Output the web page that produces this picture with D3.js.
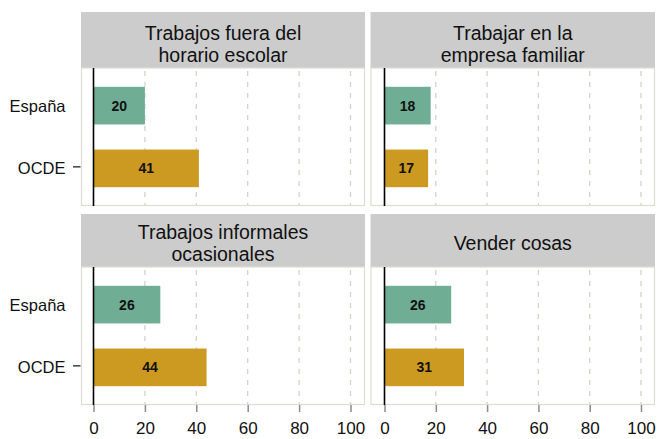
<!DOCTYPE html>
<html>
<head>
<meta charset="utf-8">
<script src="https://cdn.jsdelivr.net/npm/d3@7"></script>
<style>
  html, body { margin: 0; padding: 0; background: #ffffff; }
  svg { display: block; font-family: "Liberation Sans", Arial, sans-serif; }
</style>
</head>
<body>
<svg id="chart" width="657" height="439"></svg>
<script>
// Panels (row-major), their groups and values (%)
const panelTitles = [
  ["Trabajos fuera del", "horario escolar"],
  ["Trabajar en la", "empresa familiar"],
  ["Trabajos informales", "ocasionales"],
  ["Vender cosas"]
];
const groups = ["España", "OCDE"];
const espanaValues = [20, 18, 26, 26];
const ocdeValues = [41, 17, 44, 31];
const xTicks = [0, 20, 40, 60, 80, 100];
const groupColors = ["#6fae95", "#cc9a21"];

// Layout of the 2x2 grid
const cols = [
  { left: 81, right: 365, zero: 93.5, full: 350.5 },
  { left: 370.5, right: 655, zero: 384.5, full: 641 }
];
const rows = [
  { stripTop: 12, plotTop: 68, plotBottom: 206 },
  { stripTop: 214, plotTop: 267, plotBottom: 405 }
];

const svg = d3.select("#chart");

panelTitles.forEach((title, i) => {
  const c = cols[i % 2];
  const r = rows[Math.floor(i / 2)];
  const values = [espanaValues[i], ocdeValues[i]];

  const x = d3.scaleLinear().domain([0, 100]).range([c.zero, c.full]);
  const y = d3.scaleBand().domain(groups)
    .range([r.plotTop, r.plotBottom])
    .paddingInner(0.4).paddingOuter(0.3);

  const g = svg.append("g");

  // header strip
  g.append("rect")
    .attr("x", c.left).attr("y", r.stripTop)
    .attr("width", c.right - c.left).attr("height", r.plotTop - r.stripTop)
    .attr("fill", "#cccccc");

  const lineGap = 21.7;
  const lastBaseline = r.plotTop - 6.2;
  const firstBaseline = title.length === 2 ? lastBaseline - lineGap : lastBaseline - lineGap / 2;
  g.append("text")
    .attr("text-anchor", "middle")
    .attr("font-size", 19.5)
    .attr("fill", "#111")
    .selectAll("tspan")
    .data(title)
    .join("tspan")
    .attr("x", (c.left + c.right) / 2)
    .attr("y", (d, k) => firstBaseline + k * lineGap)
    .text(d => d);

  // plot area
  g.append("rect")
    .attr("x", c.left + 0.5).attr("y", r.plotTop)
    .attr("width", c.right - c.left - 1).attr("height", r.plotBottom - r.plotTop - 0.5)
    .attr("fill", "#ffffff")
    .attr("stroke", "#dcdcd0").attr("stroke-width", 1.2);

  // dashed gridlines
  g.selectAll("line.grid")
    .data(xTicks.filter(t => t > 0))
    .join("line")
    .attr("class", "grid")
    .attr("x1", d => x(d)).attr("x2", d => x(d))
    .attr("y1", r.plotTop + 3).attr("y2", r.plotBottom - 1)
    .attr("stroke", "#d3d3ca").attr("stroke-width", 1.3)
    .attr("stroke-dasharray", "5,6");

  // bars
  g.selectAll("rect.bar")
    .data(values)
    .join("rect")
    .attr("class", "bar")
    .attr("x", x(0))
    .attr("y", (d, k) => y(groups[k]))
    .attr("width", d => x(d) - x(0))
    .attr("height", y.bandwidth())
    .attr("fill", (d, k) => groupColors[k]);

  // value labels
  g.selectAll("text.val")
    .data(values)
    .join("text")
    .attr("class", "val")
    .attr("x", d => (x(0) + x(d)) / 2)
    .attr("y", (d, k) => y(groups[k]) + y.bandwidth() / 2)
    .attr("dy", "0.36em")
    .attr("text-anchor", "middle")
    .attr("font-size", 14)
    .attr("font-weight", "bold")
    .attr("fill", "#111")
    .text(d => d);

  // zero line
  g.append("line")
    .attr("x1", x(0)).attr("x2", x(0))
    .attr("y1", r.plotTop).attr("y2", r.plotBottom)
    .attr("stroke", "#000").attr("stroke-width", 1.6);

  // group labels on the left column
  if (i % 2 === 0) {
    g.selectAll("text.grp")
      .data(groups)
      .join("text")
      .attr("class", "grp")
      .attr("x", 65.5)
      .attr("y", d => y(d) + y.bandwidth() / 2)
      .attr("dy", "0.36em")
      .attr("text-anchor", "end")
      .attr("font-size", 16.5)
      .attr("fill", "#111")
      .text(d => d);
    g.append("line")
      .attr("x1", 73).attr("x2", 80.5)
      .attr("y1", y("OCDE") + y.bandwidth() / 2 - 1.5)
      .attr("y2", y("OCDE") + y.bandwidth() / 2 - 1.5)
      .attr("stroke", "#222").attr("stroke-width", 1.3);
  }

  // bottom axis on the lower row
  if (Math.floor(i / 2) === 1) {
    const axis = d3.axisBottom(x).tickValues(xTicks).tickSize(7).tickPadding(10);
    const ag = g.append("g")
      .attr("transform", `translate(0,${r.plotBottom})`)
      .call(axis);
    ag.select(".domain").remove();
    ag.selectAll(".tick line").attr("stroke", "#8c8c8c").attr("stroke-width", 1.5);
    ag.selectAll(".tick text")
      .attr("font-size", 17)
      .attr("font-family", "'Liberation Sans', Arial, sans-serif")
      .attr("fill", "#111");
  }
});
</script>
</body>
</html>
